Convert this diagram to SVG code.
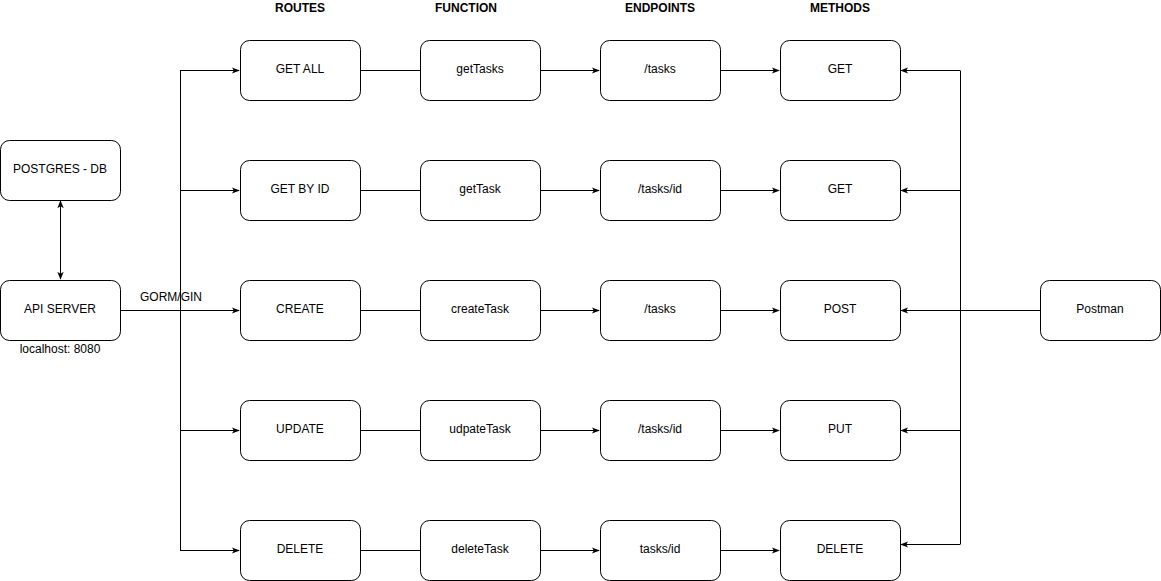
<svg xmlns="http://www.w3.org/2000/svg" width="1161" height="581" viewBox="0 0 1161 581">
<style>
.box{fill:#fff;stroke:#000;stroke-width:1}
.t{font-family:"Liberation Sans",Arial,sans-serif;font-size:12px;fill:#000;text-anchor:middle;dominant-baseline:central}
.h{font-weight:bold}
.c{fill:none;stroke:#000;stroke-width:1}
</style>
<defs>
<marker id="a" viewBox="0 0 10 10" refX="9" refY="5" markerWidth="8" markerHeight="8" orient="auto-start-reverse" markerUnits="userSpaceOnUse">
<path d="M0,1 L10,5 L0,9 L2.5,5 Z" fill="#000"/>
</marker>
</defs>
<rect width="1161" height="581" fill="#fff"/>
<g id="headers">
<text class="t h" x="300" y="8">ROUTES</text>
<text class="t h" x="466" y="8">FUNCTION</text>
<text class="t h" x="660" y="8">ENDPOINTS</text>
<text class="t h" x="840" y="8">METHODS</text>
</g>
<g id="connectors">
<path class="c" d="M60.5,201 V279" marker-start="url(#a)" marker-end="url(#a)"/>
<path class="c" d="M120,310.5 H239" marker-end="url(#a)"/>
<path class="c" d="M180.5,70.5 V550.5"/>
<path class="c" d="M180,70.5 H239" marker-end="url(#a)"/>
<path class="c" d="M180,190.5 H239" marker-end="url(#a)"/>
<path class="c" d="M180,430.5 H239" marker-end="url(#a)"/>
<path class="c" d="M180,550.5 H239" marker-end="url(#a)"/>
<path class="c" d="M360,70.5 H420 M360,190.5 H420 M360,310.5 H420 M360,430.5 H420 M360,550.5 H420"/>
<path class="c" d="M540,70.5 H599" marker-end="url(#a)"/>
<path class="c" d="M540,190.5 H599" marker-end="url(#a)"/>
<path class="c" d="M540,310.5 H599" marker-end="url(#a)"/>
<path class="c" d="M540,430.5 H599" marker-end="url(#a)"/>
<path class="c" d="M540,550.5 H599" marker-end="url(#a)"/>
<path class="c" d="M720,70.5 H779" marker-end="url(#a)"/>
<path class="c" d="M720,190.5 H779" marker-end="url(#a)"/>
<path class="c" d="M720,310.5 H779" marker-end="url(#a)"/>
<path class="c" d="M720,430.5 H779" marker-end="url(#a)"/>
<path class="c" d="M720,550.5 H779" marker-end="url(#a)"/>
<path class="c" d="M960.5,70.5 V544.5"/>
<path class="c" d="M1040,310.5 H960"/>
<path class="c" d="M960,70.5 H901" marker-end="url(#a)"/>
<path class="c" d="M960,190.5 H901" marker-end="url(#a)"/>
<path class="c" d="M960,310.5 H901" marker-end="url(#a)"/>
<path class="c" d="M960,430.5 H901" marker-end="url(#a)"/>
<path class="c" d="M960,544.5 H901" marker-end="url(#a)"/>
<text class="t" x="171" y="297">GORM/GIN</text>
</g>
<g id="postgres"><rect class="box" x="0.5" y="140.5" width="120" height="60" rx="9"/><text class="t" x="60" y="169">POSTGRES - DB</text></g>
<g id="api"><rect class="box" x="0.5" y="280.5" width="120" height="60" rx="9"/><text class="t" x="60" y="309">API SERVER</text><text class="t" x="60" y="349">localhost: 8080</text></g>
<g id="postman"><rect class="box" x="1040.5" y="280.5" width="120" height="60" rx="9"/><text class="t" x="1100" y="309">Postman</text></g>
<g id="r1"><rect class="box" x="240.5" y="40.5" width="120" height="60" rx="9"/><text class="t" x="300" y="69">GET ALL</text></g>
<g id="r2"><rect class="box" x="240.5" y="160.5" width="120" height="60" rx="9"/><text class="t" x="300" y="189">GET BY ID</text></g>
<g id="r3"><rect class="box" x="240.5" y="280.5" width="120" height="60" rx="9"/><text class="t" x="300" y="309">CREATE</text></g>
<g id="r4"><rect class="box" x="240.5" y="400.5" width="120" height="60" rx="9"/><text class="t" x="300" y="429">UPDATE</text></g>
<g id="r5"><rect class="box" x="240.5" y="520.5" width="120" height="60" rx="9"/><text class="t" x="300" y="549">DELETE</text></g>
<g id="f1"><rect class="box" x="420.5" y="40.5" width="120" height="60" rx="9"/><text class="t" x="480" y="69">getTasks</text></g>
<g id="f2"><rect class="box" x="420.5" y="160.5" width="120" height="60" rx="9"/><text class="t" x="480" y="189">getTask</text></g>
<g id="f3"><rect class="box" x="420.5" y="280.5" width="120" height="60" rx="9"/><text class="t" x="480" y="309">createTask</text></g>
<g id="f4"><rect class="box" x="420.5" y="400.5" width="120" height="60" rx="9"/><text class="t" x="480" y="429">udpateTask</text></g>
<g id="f5"><rect class="box" x="420.5" y="520.5" width="120" height="60" rx="9"/><text class="t" x="480" y="549">deleteTask</text></g>
<g id="e1"><rect class="box" x="600.5" y="40.5" width="120" height="60" rx="9"/><text class="t" x="660" y="69">/tasks</text></g>
<g id="e2"><rect class="box" x="600.5" y="160.5" width="120" height="60" rx="9"/><text class="t" x="660" y="189">/tasks/id</text></g>
<g id="e3"><rect class="box" x="600.5" y="280.5" width="120" height="60" rx="9"/><text class="t" x="660" y="309">/tasks</text></g>
<g id="e4"><rect class="box" x="600.5" y="400.5" width="120" height="60" rx="9"/><text class="t" x="660" y="429">/tasks/id</text></g>
<g id="e5"><rect class="box" x="600.5" y="520.5" width="120" height="60" rx="9"/><text class="t" x="660" y="549">tasks/id</text></g>
<g id="m1"><rect class="box" x="780.5" y="40.5" width="120" height="60" rx="9"/><text class="t" x="840" y="69">GET</text></g>
<g id="m2"><rect class="box" x="780.5" y="160.5" width="120" height="60" rx="9"/><text class="t" x="840" y="189">GET</text></g>
<g id="m3"><rect class="box" x="780.5" y="280.5" width="120" height="60" rx="9"/><text class="t" x="840" y="309">POST</text></g>
<g id="m4"><rect class="box" x="780.5" y="400.5" width="120" height="60" rx="9"/><text class="t" x="840" y="429">PUT</text></g>
<g id="m5"><rect class="box" x="780.5" y="520.5" width="120" height="60" rx="9"/><text class="t" x="840" y="549">DELETE</text></g>
</svg>
